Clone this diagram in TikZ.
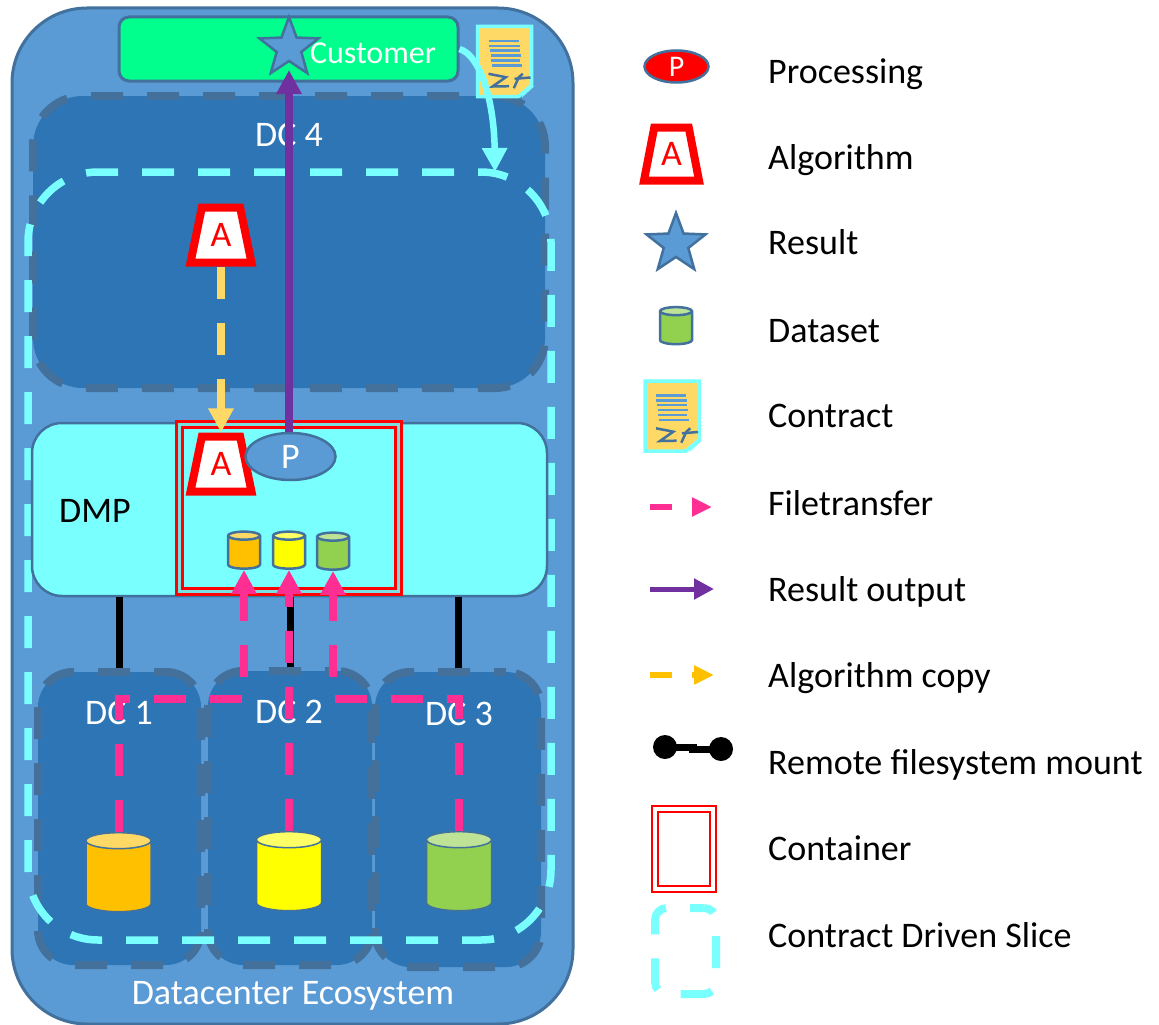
\documentclass[tikz,border=0pt]{standalone}
\usepackage{fontspec}
\setmainfont{Carlito}
\usetikzlibrary{positioning, arrows.meta, shapes.geometric}

\definecolor{ecoblue}{HTML}{5B9BD5}
\definecolor{edgeblue}{HTML}{41719C}
\definecolor{dcblue}{HTML}{2E75B6}
\definecolor{dcedge}{HTML}{44709C}
\definecolor{slicecyan}{HTML}{7AFFFF}
\definecolor{customergreen}{HTML}{00FF8C}
\definecolor{filepink}{HTML}{FF2E93}
\definecolor{resultpurple}{HTML}{7030A0}
\definecolor{copyyellow}{HTML}{FFD966}
\definecolor{dsorange}{HTML}{FFC000}
\definecolor{dsyellow}{HTML}{FFFF00}
\definecolor{dsgreen}{HTML}{92D050}

\tikzset{
  contract/.pic={
    \filldraw[fill=copyyellow, draw=slicecyan, line width=3.5pt]
      (-27,-35) -- (27,-35) -- (27,24) -- (14,35) -- (-27,35) -- cycle;
    \fill[slicecyan] (30,24.5) -- (17.5,36) -- (20,28) -- cycle;
    \draw[ecoblue, line width=2.7pt] (-16,-20.5) -- (14,-20.5);
    \draw[ecoblue, line width=2.7pt] (-16,-15.5) -- (15,-15.5);
    \draw[ecoblue, line width=2.7pt] (-15,-11) -- (15,-11);
    \draw[ecoblue, line width=2.7pt] (-14,-6) -- (16,-6);
    \draw[ecoblue, line width=2.7pt] (-14,-1) -- (15,-1);
    \draw[ecoblue, line width=2.7pt] (-13,4) -- (17,4);
    \draw[edgeblue, line width=2.5pt] (-16,12.3) -- (1.3,15.7) -- (-12,25) -- (4.7,24.7);
    \draw[edgeblue, line width=2.5pt] (9.3,26.7) -- (14.3,15.7) -- (18.3,12.3);
    \draw[edgeblue, line width=2.5pt] (10,17.3) -- (26,16);
  }
}

\begin{document}
\begin{tikzpicture}[
  x=1pt, y=-1pt,
  every node/.style={font=\fontsize{36}{40}\selectfont, inner sep=0pt},
  ecosystem/.style={draw=edgeblue, line width=3pt, fill=ecoblue, rectangle, rounded corners=75pt},
  dcbox/.style={draw=dcedge, line width=8pt, fill=dcblue, rectangle, rounded corners=#1,
    dash pattern=on 32pt off 24pt, dash phase=20pt},
  slicebox/.style={draw=slicecyan, line width=7.5pt, rectangle, rounded corners=#1,
    dash pattern=on 32pt off 24pt},
  cbox/.style={draw=red, line width=2.5pt, double=#1, double distance=3.5pt, rectangle},
  algo/.style={trapezium, trapezium stretches=true, trapezium angle=75, draw=red, fill=white,
    line width=8pt, minimum width=61pt, minimum height=55pt, text=red},
  result/.style={star, star points=5, star point ratio=2.4, draw=edgeblue, fill=ecoblue,
    line width=2.5pt, minimum size=#1},
  dataset/.style={cylinder, shape border rotate=90, shape aspect=0.5, inner sep=16pt, draw=edgeblue,
    cylinder uses custom fill, cylinder body fill=#1, cylinder end fill=#1!60!white},
  smallset/.style={dataset=#1, inner sep=8pt, line width=2.5pt, minimum width=32pt, minimum height=37pt},
  bigset/.style={dataset=#1, line width=1.5pt, minimum width=65pt, minimum height=79pt},
  caption/.style={anchor=west, text height=32pt, text depth=7pt},
  whitetext/.style={text=white},
  mount/.style={black, line width=7pt},
  filetransfer/.style={filepink, line width=8pt, dash pattern=on 32pt off 24pt,
    -{Triangle[width=24pt,length=24pt]}},
  resultarrow/.style={resultpurple, line width=8pt, -{Triangle[width=24pt,length=24pt]}},
  copyarrow/.style={copyyellow, line width=8pt, dash pattern=on 32pt off 24pt,
    -{Triangle[width=24pt,length=24pt]}},
  slicearrow/.style={slicecyan, line width=6.5pt, -{Triangle[width=24pt,length=24pt]}}
]
\useasboundingbox (0,0) rectangle (1159,1025);

% ecosystem and datacenters
\node[ecosystem, minimum width=561pt, minimum height=1016pt] (ecosystem) at (292.5,516) {};
\node[draw=edgeblue, line width=3pt, fill=customergreen, rectangle, rounded corners=10pt,
  minimum width=339pt, minimum height=64pt] (customer) at (288.5,49) {};
\node[dcbox=50pt, minimum width=512pt, minimum height=292pt] (dcfour) at (289,242) {};
\node[dcbox=35pt, minimum width=163pt, minimum height=293pt] (dcone) at (119.5,818.5) {};
\node[dcbox=35pt, minimum width=164pt, minimum height=294pt] (dctwo) at (290,818) {};
\node[dcbox=35pt, minimum width=166pt, minimum height=295pt] (dcthree) at (458,819.5) {};
\node[whitetext] (dcfourlabel) at (289,135) {DC 4};
\node[whitetext] (dconelabel) at (119,713) {DC 1};
\node[whitetext] (dctwolabel) at (289,712) {DC 2};
\node[whitetext] (dcthreelabel) at (459,714) {DC 3};
\node[whitetext, font=\fontsize{32}{36}\selectfont] (customerlabel) at (373,53) {Customer};
\node[whitetext] (ecosystemlabel) at (293,996) {Datacenter Ecosystem};

% slice and platform
\node[slicebox=70pt, dash phase=29pt, minimum width=523pt, minimum height=768pt] (slice) at (289.5,556) {};
\node[draw=edgeblue, line width=2.5pt, fill=slicecyan, rectangle, rounded corners=30pt,
  minimum width=515pt, minimum height=173pt] (dmp) at (289.5,509.5) {};
\node (dmplabel) at (95,511) {DMP};
\node[cbox=slicecyan!75!gray, minimum width=219pt, minimum height=167pt] (container) at (289,508) {};

\draw[mount] (dcone.north) -- (dcone.north |- dmp.south);
\draw[mount] (dctwo.north) -- (dctwo.north |- dmp.south);
\draw[mount] (dcthree.north) -- (dcthree.north |- dmp.south);

% datasets
\node[bigset=dsorange] (bigorange) at (118.5,880) {};
\node[bigset=dsyellow] (bigyellow) at (289,879) {};
\node[bigset=dsgreen] (biggreen) at (459,879) {};
\node[smallset=dsorange] (smallorange) at (244,554.5) {};
\node[smallset=dsyellow] (smallyellow) at (289,554.5) {};
\node[smallset=dsgreen] (smallgreen) at (333,555.5) {};

\coordinate (busline) at (0,699);
\draw[filetransfer] (bigorange.north) -- (bigorange.north |- busline)
  -- (smallorange.south |- busline) -- (smallorange.south);
\draw[filetransfer] (bigyellow.north) -- (smallyellow.south);
\draw[filetransfer] (biggreen.north) -- (biggreen.north |- busline)
  -- (smallgreen.south |- busline) -- (smallgreen.south);

% algorithm and processing
\node[algo] (algotop) at (221,235) {A};
\node[algo] (algolow) at (221,464) {A};
\node[ellipse, draw=edgeblue, fill=ecoblue, line width=2.5pt, minimum width=90pt,
  minimum height=47pt, text=white] (processing) at (290.5,456.5) {P};
\node[result=62pt] (resultstar) at (289,48) {};
\coordinate (resulttip) at (289,70);
\draw[copyarrow] (algotop.south) -- (algolow.north);
\draw[resultarrow] (resulttip |- processing.north) -- (resulttip);
\path (504.5,61.5) pic (contractmain) {contract};
\coordinate (slicein) at (495,172);
\draw[slicearrow] (customer.east) .. controls (480,55) and (494,100) .. (slicein);

% legend
\node[ellipse, draw=edgeblue, fill=red, line width=2.5pt, minimum width=64pt,
  minimum height=32pt, text=white, font=\fontsize{30}{34}\selectfont] (legprocessing) at (676.5,66.5) {P};
\node[algo, minimum width=55pt, minimum height=53pt] (legalgo) at (671.5,154) {A};
\node[result=62pt] (legresult) at (676,244) {};
\node[smallset=dsgreen] (legdataset) at (676,330) {};
\path (672,416) pic (legcontract) {contract};
\coordinate (legfilea) at (650,507);
\coordinate (legfileb) at (712,507);
\draw[filepink, line width=6pt, dash pattern=on 22pt off 20pt, -{Triangle[width=18pt,length=20pt]}] (legfilea) -- (legfileb);
\coordinate (legouta) at (650,589);
\coordinate (legoutb) at (714,589);
\draw[resultpurple, line width=5pt, -{Triangle[width=20pt,length=20pt]}] (legouta) -- (legoutb);
\coordinate (legcopya) at (650,675);
\coordinate (legcopyb) at (714,675);
\draw[dsorange, line width=6pt, dash pattern=on 22pt off 20pt, -{Triangle[width=18pt,length=20pt]}] (legcopya) -- (legcopyb);
\node[circle, fill=black, minimum size=24pt] (legmounta) at (665,747) {};
\node[circle, fill=black, minimum size=24pt] (legmountb) at (721,749) {};
\draw[mount] (legmounta.center) -- ++(32,0);
\draw[mount] (legmountb.center) -- ++(-32,0);
\node[cbox=white, minimum width=58pt, minimum height=80pt] (legcontainer) at (684,849) {};
\node[slicebox=12pt, dash phase=18pt, minimum width=61pt, minimum height=86pt, line width=8pt] (legslice) at (685.5,951) {};

\node[caption] (capprocessing) at (768,71) {Processing};
\node[caption] (capalgo) at (768,157) {Algorithm};
\node[caption] (capresult) at (768,242) {Result};
\node[caption] (capdataset) at (768,330) {Dataset};
\node[caption] (capcontract) at (768,415) {Contract};
\node[caption] (capfile) at (768,503) {Filetransfer};
\node[caption] (capout) at (768,589) {Result output};
\node[caption] (capcopy) at (768,675) {Algorithm copy};
\node[caption] (capmount) at (768,762) {Remote filesystem mount};
\node[caption] (capcontainer) at (768,848) {Container};
\node[caption] (capslice) at (768,935) {Contract Driven Slice};

\end{tikzpicture}
\end{document}
